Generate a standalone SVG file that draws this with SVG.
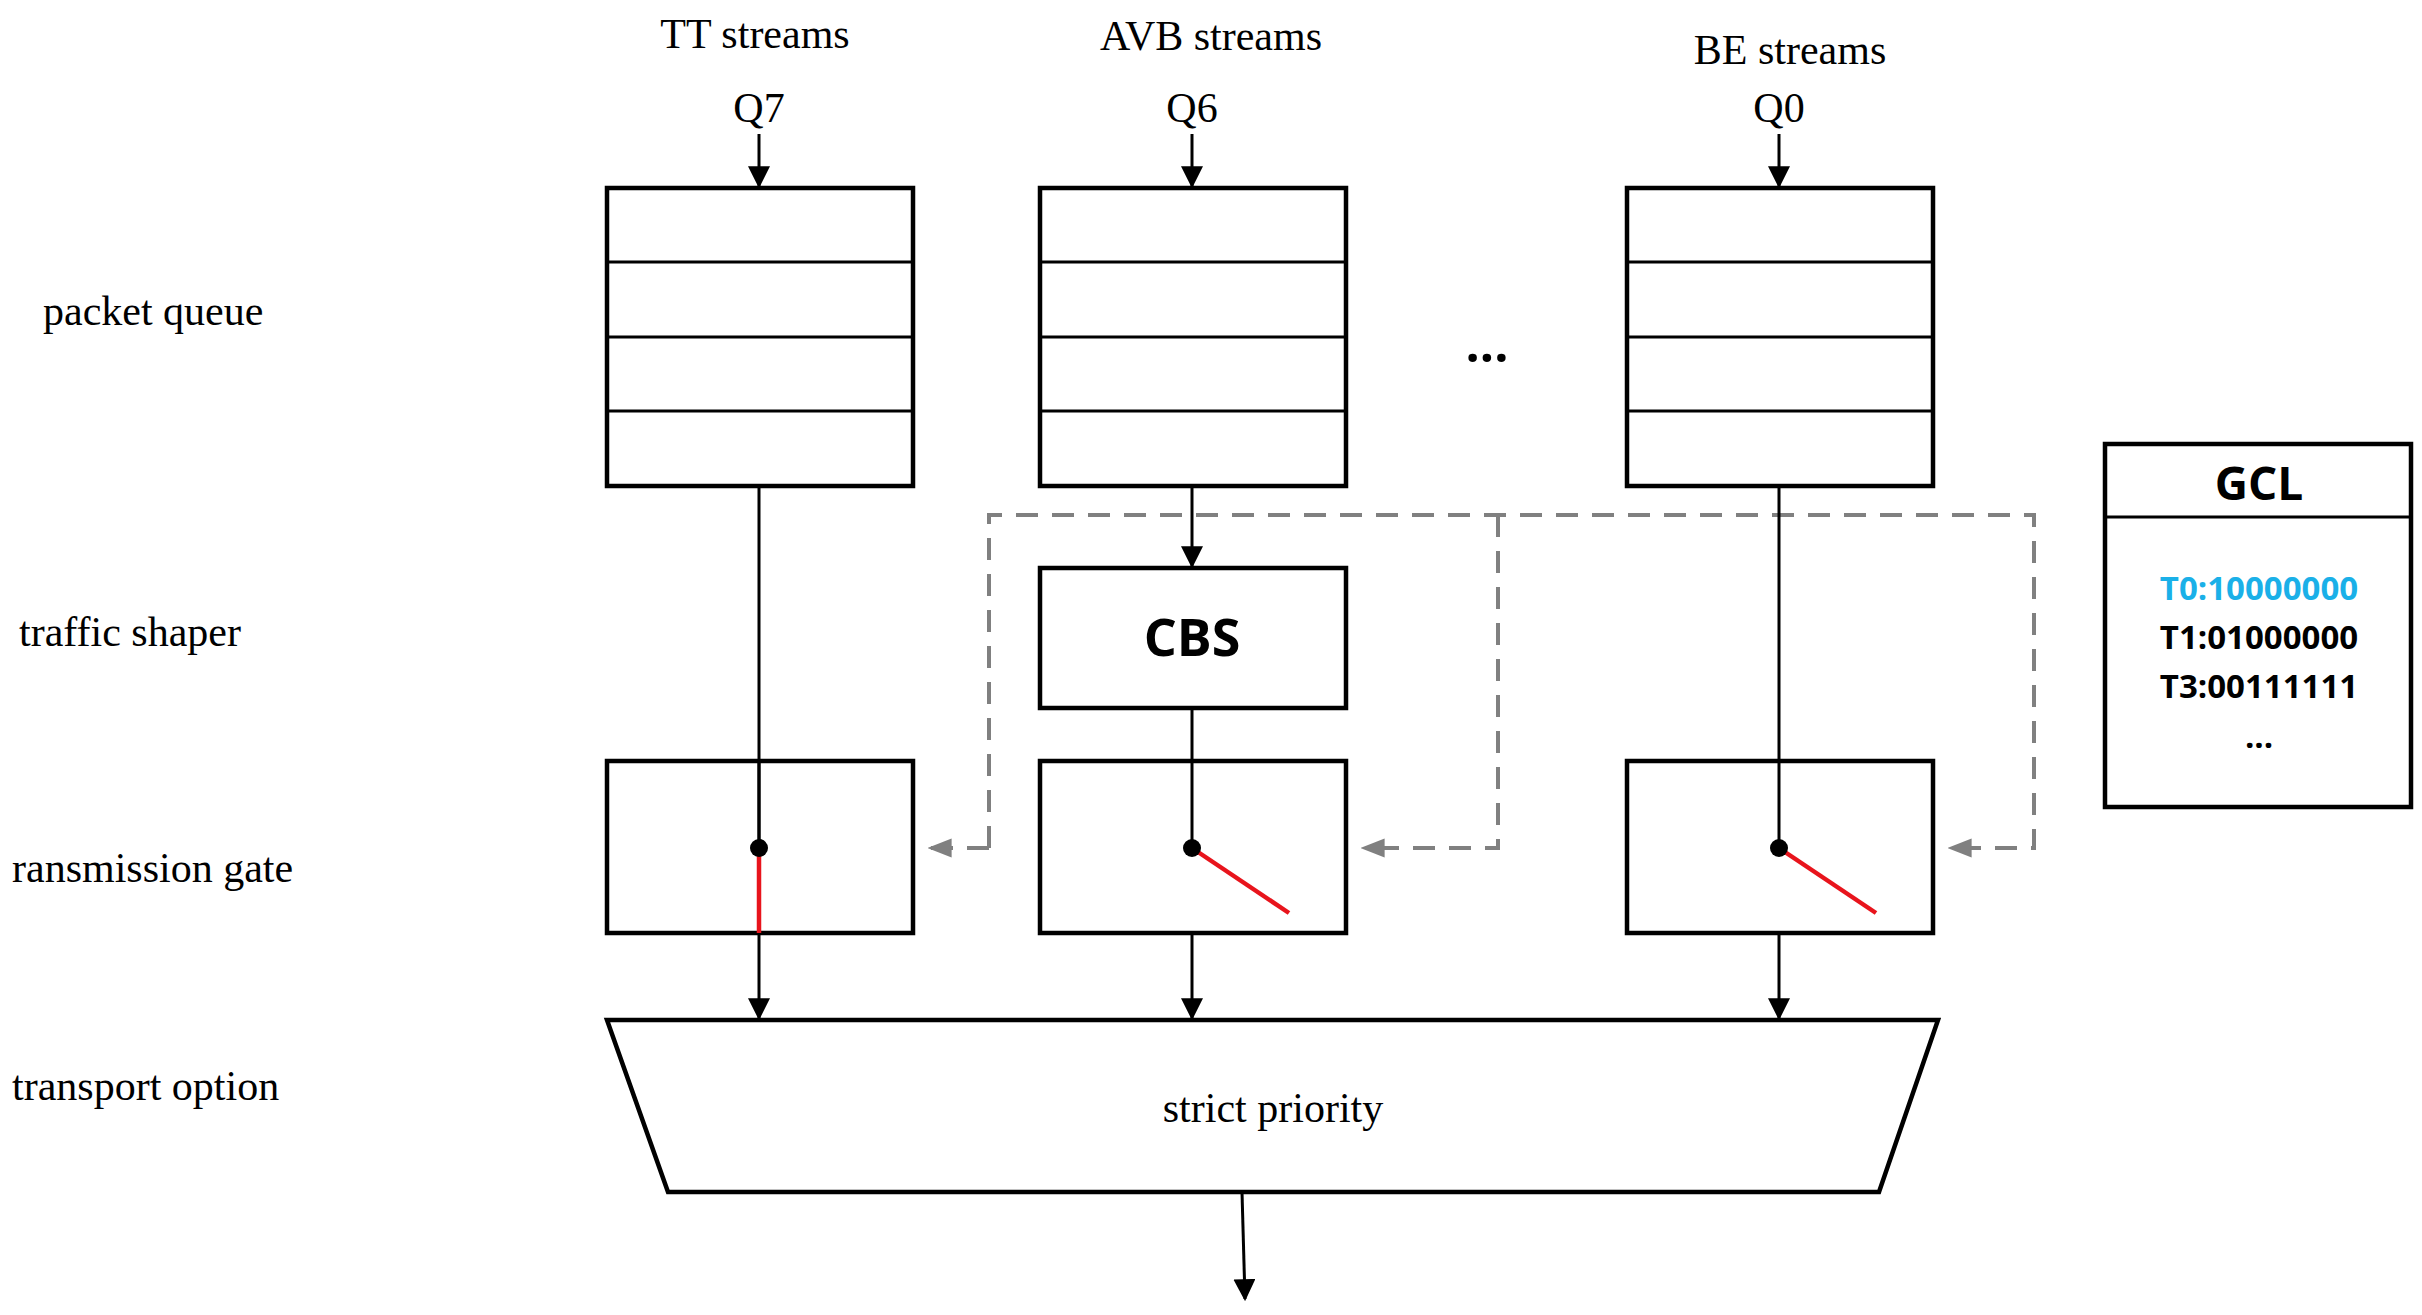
<svg xmlns="http://www.w3.org/2000/svg" width="2422" height="1315" viewBox="0 0 2422 1315">
<defs>
<marker id="ah" markerWidth="8" markerHeight="8" refX="7" refY="4" orient="auto" markerUnits="userSpaceOnUse" viewBox="0 0 8 8"><path d="M0,0 L8,4 L0,8 z" fill="#000"/></marker>
<marker id="ahb" viewBox="0 0 10 10" refX="9" refY="5" markerWidth="22" markerHeight="22" orient="auto" markerUnits="userSpaceOnUse"><path d="M0,0 L10,5 L0,10 z" fill="#000"/></marker>
<marker id="ag" viewBox="0 0 10 10" refX="9" refY="5" markerWidth="24" markerHeight="24" orient="auto" markerUnits="userSpaceOnUse"><path d="M0,1 L10,5 L0,9 z" fill="#808080"/></marker>
<style>
.box{fill:#fff;stroke:#000;stroke-width:4.5}
.ln{stroke:#000;stroke-width:3;fill:none}
.ds{stroke:#808080;stroke-width:4;fill:none;stroke-dasharray:22,14}
.red{stroke:#e8141c;stroke-width:4.5}
.t{font-family:"Liberation Serif",serif;font-size:42px;fill:#000}
.b{font-family:"Open Sans","DejaVu Sans",sans-serif;font-weight:bold;fill:#000}
</style>
</defs>
<g id="labels">
<text class="t" x="43" y="325">packet queue</text>
<text class="t" x="19" y="646">traffic shaper</text>
<text class="t" x="12" y="882">ransmission gate</text>
<text class="t" x="12" y="1100">transport option</text>
<text class="t" x="755" y="48" text-anchor="middle">TT streams</text>
<text class="t" x="1211" y="50" text-anchor="middle">AVB streams</text>
<text class="t" x="1790" y="64" text-anchor="middle">BE streams</text>
<text class="t" x="759" y="122" text-anchor="middle">Q7</text>
<text class="t" x="1192" y="122" text-anchor="middle">Q6</text>
<text class="t" x="1779" y="122" text-anchor="middle">Q0</text>
<text class="b" x="1487" y="362" text-anchor="middle" font-size="50">...</text>
</g>
<g id="connectors">
<line class="ln" x1="759" y1="134" x2="759" y2="186" marker-end="url(#ahb)"/>
<line class="ln" x1="1192" y1="134" x2="1192" y2="186" marker-end="url(#ahb)"/>
<line class="ln" x1="1779" y1="134" x2="1779" y2="186" marker-end="url(#ahb)"/>
<path class="ds" d="M989,848 V515 H2034 V848 H1950" marker-end="url(#ag)"/>
<line class="ds" x1="989" y1="848" x2="930" y2="848" marker-end="url(#ag)"/>
<path class="ds" d="M1498,515 V848 H1363" marker-end="url(#ag)"/>
<line class="ln" x1="759" y1="486" x2="759" y2="848"/>
<line class="ln" x1="1192" y1="486" x2="1192" y2="566" marker-end="url(#ahb)"/>
<line class="ln" x1="1192" y1="708" x2="1192" y2="848"/>
<line class="ln" x1="1779" y1="486" x2="1779" y2="848"/>
<line class="ln" x1="759" y1="933" x2="759" y2="1018" marker-end="url(#ahb)"/>
<line class="ln" x1="1192" y1="933" x2="1192" y2="1018" marker-end="url(#ahb)"/>
<line class="ln" x1="1779" y1="933" x2="1779" y2="1018" marker-end="url(#ahb)"/>
<line class="ln" x1="1242" y1="1192" x2="1245" y2="1299" stroke-width="4" marker-end="url(#ahb)"/>
</g>
<g id="q7"><rect class="box" x="607" y="188" width="306" height="298"/><path class="ln" stroke-width="4.5" d="M607,262 H913 M607,337 H913 M607,411 H913"/></g>
<g id="q6"><rect class="box" x="1040" y="188" width="306" height="298"/><path class="ln" stroke-width="4.5" d="M1040,262 H1346 M1040,337 H1346 M1040,411 H1346"/></g>
<g id="q0"><rect class="box" x="1627" y="188" width="306" height="298"/><path class="ln" stroke-width="4.5" d="M1627,262 H1933 M1627,337 H1933 M1627,411 H1933"/></g>
<g id="cbs"><rect class="box" x="1040" y="568" width="306" height="140"/><text class="b" x="1192" y="656" text-anchor="middle" font-size="52">CBS</text></g>
<g id="gate7"><rect class="box" x="607" y="761" width="306" height="172" fill="none" style="fill:none"/><line class="ln" x1="759" y1="761" x2="759" y2="848"/><line class="red" x1="759" y1="848" x2="759" y2="933"/><circle cx="759" cy="848" r="9" fill="#000"/></g>
<g id="gate6"><rect class="box" x="1040" y="761" width="306" height="172" style="fill:none"/><line class="red" x1="1192" y1="848" x2="1289" y2="913"/><circle cx="1192" cy="848" r="9" fill="#000"/></g>
<g id="gate0"><rect class="box" x="1627" y="761" width="306" height="172" style="fill:none"/><line class="red" x1="1779" y1="848" x2="1876" y2="913"/><circle cx="1779" cy="848" r="9" fill="#000"/></g>
<g id="sp"><polygon class="box" points="607,1020 1938,1020 1879,1192 668,1192"/><text class="t" x="1273" y="1122" text-anchor="middle">strict priority</text></g>
<g id="gcl"><rect class="box" x="2105" y="444" width="306" height="363"/><line class="ln" stroke-width="4.5" x1="2105" y1="517" x2="2411" y2="517"/>
<text class="b" x="2259" y="500" text-anchor="middle" font-size="46">GCL</text>
<text class="b" x="2259" y="600" text-anchor="middle" font-size="33" fill="#1ab0e8" style="fill:#1ab0e8">T0:10000000</text>
<text class="b" x="2259" y="649" text-anchor="middle" font-size="33">T1:01000000</text>
<text class="b" x="2259" y="698" text-anchor="middle" font-size="33">T3:00111111</text>
<text class="b" x="2259" y="748" text-anchor="middle" font-size="33">...</text></g>
</svg>
